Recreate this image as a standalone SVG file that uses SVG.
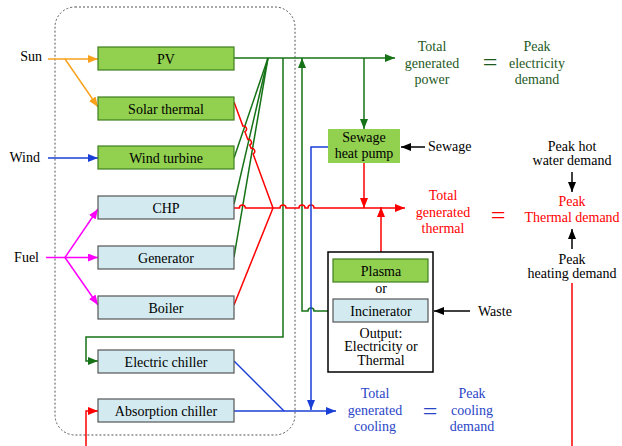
<svg xmlns="http://www.w3.org/2000/svg" width="622" height="446" viewBox="0 0 622 446">
<style>
text{font-family:"Liberation Serif","Times New Roman",serif;font-size:14px;}
.c{text-anchor:middle}
.e{text-anchor:end}
.g{fill:#92d050;stroke:#3f7f1f;stroke-width:1.2}
.b{fill:#d2eaf0;stroke:#555;stroke-width:1.2}
.ln{fill:none;stroke-width:1.5}
.or{stroke:#f9a11b}
.bl{stroke:#1a3fd6}
.mg{stroke:#ff00ff}
.gr{stroke:#167216}
.rd{stroke:#ff0000}
.bk{stroke:#000}
.tg{fill:#1e5a1e}
.tr{fill:#ff0000}
.tb{fill:#2a45c8}
.eq{font-size:26px}
</style>
<defs>
<marker id="aO" markerUnits="userSpaceOnUse" markerWidth="10" markerHeight="8" refX="10" refY="4" orient="auto"><path d="M0,0L10,4L0,8z" fill="#f9a11b"/></marker>
<marker id="aB" markerUnits="userSpaceOnUse" markerWidth="10" markerHeight="8" refX="10" refY="4" orient="auto"><path d="M0,0L10,4L0,8z" fill="#1a3fd6"/></marker>
<marker id="aM" markerUnits="userSpaceOnUse" markerWidth="10" markerHeight="8" refX="10" refY="4" orient="auto"><path d="M0,0L10,4L0,8z" fill="#ff00ff"/></marker>
<marker id="aG" markerUnits="userSpaceOnUse" markerWidth="10" markerHeight="8" refX="10" refY="4" orient="auto"><path d="M0,0L10,4L0,8z" fill="#167216"/></marker>
<marker id="aR" markerUnits="userSpaceOnUse" markerWidth="10" markerHeight="8" refX="10" refY="4" orient="auto"><path d="M0,0L10,4L0,8z" fill="#ff0000"/></marker>
<marker id="aK" markerUnits="userSpaceOnUse" markerWidth="10" markerHeight="8" refX="10" refY="4" orient="auto"><path d="M0,0L10,4L0,8z" fill="#000"/></marker>
</defs>
<rect width="622" height="446" fill="#fff"/>
<rect id="boundary" x="55" y="7" width="240" height="428" rx="20" fill="none" stroke="#555" stroke-width="1" stroke-dasharray="2,2"/>

<g id="connectors">
<path class="ln or" d="M48,59H98" marker-end="url(#aO)"/>
<path class="ln or" d="M65,59L98,107" marker-end="url(#aO)"/>
<path class="ln bl" d="M48,158H98" marker-end="url(#aB)"/>
<path class="ln mg" d="M46,257.5H98" marker-end="url(#aM)"/>
<path class="ln mg" d="M65,257.5L98,209" marker-end="url(#aM)"/>
<path class="ln mg" d="M65,257.5L98,305" marker-end="url(#aM)"/>
<path class="ln gr" d="M234,58H395" marker-end="url(#aG)"/>
<path class="ln gr" d="M234,158L268,58"/>
<path class="ln gr" d="M234,204L268,58"/>
<path class="ln gr" d="M234,257L268,58"/>
<path class="ln gr" d="M283,58V337H86V361H98" marker-end="url(#aG)"/>
<path class="ln gr" d="M328,311H314A3,3 0 0 0 308,311H302V58" marker-end="url(#aG)"/>
<path class="ln gr" d="M364,58V129" marker-end="url(#aG)"/>
<path class="ln rd" d="M234,102L242.9,126.1A3,3 0 0 1 244.9,131.7L247.8,139.4A3,3 0 0 1 249.8,145L251.1,148.3A3,3 0 0 1 253.1,153.9L273,208"/>
<path class="ln rd" d="M234,305L273,208"/>
<path class="ln rd" d="M234,208H239.4A3,3 0 0 1 245.4,208H280A3,3 0 0 1 286,208H299A3,3 0 0 1 305,208H308A3,3 0 0 1 314,208H405" marker-end="url(#aR)"/>
<path class="ln rd" d="M364,163V208" marker-end="url(#aR)"/>
<path class="ln rd" d="M381,252V207" marker-end="url(#aR)"/>
<path class="ln rd" d="M86,446V411H98" marker-end="url(#aR)"/>
<path class="ln rd" d="M572,283V446"/>
<path class="ln bl" d="M328,147H311V410" marker-end="url(#aB)"/>
<path class="ln bl" d="M234,411H336" marker-end="url(#aB)"/>
<path class="ln bl" d="M234,361L284,411"/>
<path class="ln bk" d="M425,147H401" marker-end="url(#aK)"/>
<path class="ln bk" d="M470,311H434" marker-end="url(#aK)"/>
<path class="ln bk" d="M572,172V192" marker-end="url(#aK)"/>
<path class="ln bk" d="M572,249V229" marker-end="url(#aK)"/>
</g>

<g id="inputs">
<text class="e" x="42" y="61">Sun</text>
<text class="e" x="40" y="162">Wind</text>
<text class="e" x="39" y="262">Fuel</text>
<text x="428" y="151">Sewage</text>
<text x="478" y="316">Waste</text>
</g>

<g id="pv"><rect class="g" x="98" y="47" width="136" height="23"/><text class="c" x="166" y="63.5">PV</text></g>
<g id="solar-thermal"><rect class="g" x="98" y="97" width="136" height="23"/><text class="c" x="166" y="113.5">Solar thermal</text></g>
<g id="wind-turbine"><rect class="g" x="98" y="146" width="136" height="23"/><text class="c" x="166" y="162.5">Wind turbine</text></g>
<g id="chp"><rect class="b" x="98" y="196" width="136" height="23"/><text class="c" x="166" y="212.5">CHP</text></g>
<g id="generator"><rect class="b" x="98" y="246" width="136" height="23"/><text class="c" x="166" y="262.5">Generator</text></g>
<g id="boiler"><rect class="b" x="98" y="296" width="136" height="23"/><text class="c" x="166" y="312.5">Boiler</text></g>
<g id="electric-chiller"><rect class="b" x="98" y="350" width="136" height="23"/><text class="c" x="166" y="366.5">Electric chiller</text></g>
<g id="absorption-chiller"><rect class="b" x="98" y="399" width="136" height="23"/><text class="c" x="166" y="415.5">Absorption chiller</text></g>

<g id="sewage-heat-pump"><rect x="328" y="129" width="72" height="34" fill="#92d050"/><text class="c" x="364" y="142">Sewage</text><text class="c" x="364" y="158">heat pump</text></g>

<g id="waste-unit">
<rect x="328" y="252" width="105" height="120" fill="#fff" stroke="#000" stroke-width="1.5"/>
<rect class="g" x="333" y="259" width="95" height="23"/><text class="c" x="381" y="275.5">Plasma</text>
<text class="c" x="381" y="293">or</text>
<rect class="b" x="333" y="299" width="95" height="23"/><text class="c" x="381" y="315.5">Incinerator</text>
<text class="c" x="381" y="337.5">Output:</text>
<text class="c" x="381" y="351">Electricity or</text>
<text class="c" x="381" y="364.5">Thermal</text>
</g>

<g id="power-balance">
<text class="c tg" x="432" y="51">Total</text><text class="c tg" x="432" y="68">generated</text><text class="c tg" x="432" y="84">power</text>
<text class="c tg eq" x="490" y="71">=</text>
<text class="c tg" x="537" y="51">Peak</text><text class="c tg" x="537" y="68">electricity</text><text class="c tg" x="537" y="84">demand</text>
</g>

<g id="thermal-balance">
<text class="c tr" x="443" y="200">Total</text><text class="c tr" x="443" y="217">generated</text><text class="c tr" x="443" y="233">thermal</text>
<text class="c tr eq" x="498" y="224">=</text>
<text class="c" x="572" y="151">Peak hot</text><text class="c" x="572" y="165">water demand</text>
<text class="c tr" x="572" y="206">Peak</text><text class="c tr" x="572" y="222">Thermal demand</text>
<text class="c" x="572" y="264">Peak</text><text class="c" x="572" y="278">heating demand</text>
</g>

<g id="cooling-balance">
<text class="c tb" x="375" y="398">Total</text><text class="c tb" x="375" y="415">generated</text><text class="c tb" x="375" y="431">cooling</text>
<text class="c tb eq" x="430" y="420">=</text>
<text class="c tb" x="472" y="398">Peak</text><text class="c tb" x="472" y="415">cooling</text><text class="c tb" x="472" y="431">demand</text>
</g>
</svg>
